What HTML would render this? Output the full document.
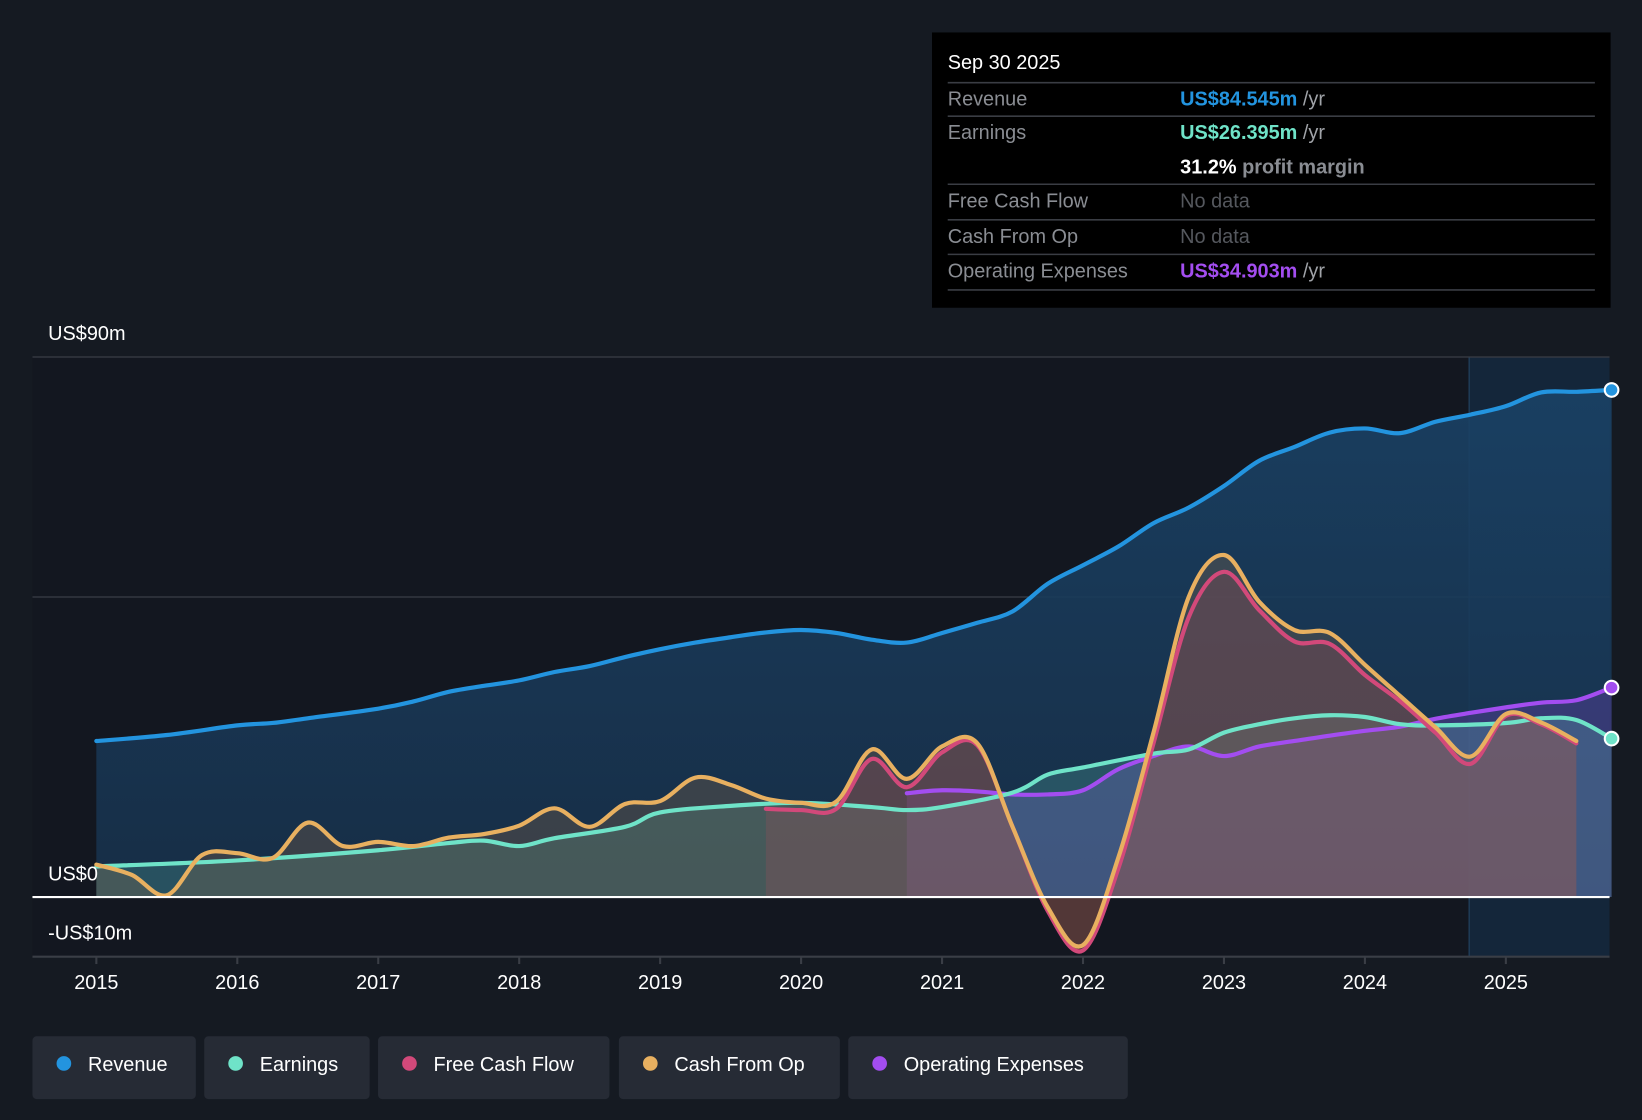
<!DOCTYPE html>
<html><head><meta charset="utf-8"><style>
html,body{margin:0;padding:0;background:#151a22;}
svg{display:block;font-family:"Liberation Sans",sans-serif;}
</style></head><body>
<svg id="chart" width="1642" height="1120" viewBox="0 0 1568 1070" preserveAspectRatio="none" xmlns="http://www.w3.org/2000/svg">
<defs>
<linearGradient id="revGrad" x1="0" y1="0" x2="0" y2="1"><stop offset="0" stop-color="#1a4266" stop-opacity="0.9"/><stop offset="1" stop-color="#17304a" stop-opacity="0.9"/></linearGradient>
</defs>
<rect x="0" y="0" width="1568" height="1070" fill="#151a22"/>
<rect x="31" y="341" width="1372" height="573" fill="#131720"/>
<rect x="1403" y="341" width="134" height="573" fill="#14263a"/>
<line x1="1403" y1="341" x2="1403" y2="914" stroke="#1e3a55" stroke-width="1.5"/>
<g id="grid"></g>
<g id="series"></g>
<g id="axes"></g>
<g id="tooltip">
<rect x="890" y="31" width="648" height="263" fill="#000"/>
<text x="905" y="66" fill="#fff" font-size="19">Sep 30 2025</text>
<g stroke="#3a3d44" stroke-width="1.5">
<line x1="905" y1="79" x2="1523" y2="79"/><line x1="905" y1="111" x2="1523" y2="111"/>
<line x1="905" y1="176" x2="1523" y2="176"/><line x1="905" y1="210" x2="1523" y2="210"/>
<line x1="905" y1="243" x2="1523" y2="243"/><line x1="905" y1="277" x2="1523" y2="277"/>
</g>
<g font-size="19" fill="#8a8d93">
<text x="905" y="101">Revenue</text><text x="905" y="133">Earnings</text>
<text x="905" y="198">Free Cash Flow</text><text x="905" y="232">Cash From Op</text>
<text x="905" y="265">Operating Expenses</text>
</g>
<text x="1127" y="101" font-size="19"><tspan fill="#2394df" font-weight="bold">US$84.545m</tspan><tspan fill="#a0a3a8"> /yr</tspan></text>
<text x="1127" y="133" font-size="19"><tspan fill="#6fe3c8" font-weight="bold">US$26.395m</tspan><tspan fill="#a0a3a8"> /yr</tspan></text>
<text x="1127" y="166" font-size="19"><tspan fill="#fff" font-weight="bold">31.2%</tspan><tspan fill="#8a8d93" font-weight="bold"> profit margin</tspan></text>
<text x="1127" y="198" font-size="19" fill="#55585e">No data</text>
<text x="1127" y="232" font-size="19" fill="#55585e">No data</text>
<text x="1127" y="265" font-size="19"><tspan fill="#a34df0" font-weight="bold">US$34.903m</tspan><tspan fill="#a0a3a8"> /yr</tspan></text>
</g>
<g id="legend"></g>
</svg>
<script>
const revX=[2015,2015.5,2016,2016.25,2016.5,2017,2017.25,2017.5,2017.75,2018,2018.25,2018.5,2018.75,2019,2019.25,2019.5,2019.75,2020,2020.25,2020.5,2020.75,2021,2021.25,2021.5,2021.75,2022,2022.25,2022.5,2022.75,2023,2023.25,2023.5,2023.75,2024,2024.25,2024.5,2024.75,2025,2025.25,2025.5,2025.75];
const revenue=[26,27,28.6,29,29.8,31.4,32.6,34.2,35.2,36.1,37.5,38.5,40,41.3,42.4,43.3,44.1,44.5,44,42.9,42.4,44,45.7,47.6,52.2,55.3,58.4,62.3,64.9,68.5,72.7,75,77.4,78.1,77.3,79.2,80.4,81.8,84.1,84.2,84.5];
const earnX=[2015,2016,2017,2017.5,2017.75,2018,2018.25,2018.75,2019,2019.5,2020,2020.5,2020.75,2021,2021.5,2021.75,2022,2022.5,2022.75,2023,2023.25,2023.5,2023.75,2024,2024.25,2024.5,2025,2025.25,2025.5,2025.75];
const earnings=[5.1,6.1,7.8,9,9.4,8.5,9.8,11.7,14.1,15.2,15.7,15,14.5,15,17.4,20.4,21.6,23.9,24.6,27.4,28.8,29.8,30.3,30,28.8,28.6,29,29.8,29.5,26.4];
const cfoX=[2015,2015.25,2015.5,2015.75,2016,2016.25,2016.5,2016.75,2017,2017.25,2017.5,2017.75,2018,2018.25,2018.5,2018.75,2019,2019.25,2019.5,2019.75,2020,2020.25,2020.5,2020.75,2021,2021.25,2021.5,2021.75,2022,2022.25,2022.5,2022.75,2023,2023.25,2023.5,2023.75,2024,2024.25,2024.5,2024.75,2025,2025.25,2025.5];
const cashFromOp=[5.4,3.7,0.3,7,7.3,6.5,12.4,8.5,9.2,8.5,9.9,10.5,11.9,14.8,11.7,15.5,16,19.9,18.7,16.4,15.7,15.9,24.6,19.7,25.1,25.6,11.7,-1.7,-8,6.5,27.4,50,57,49.2,44.5,44,38.7,33.5,28.3,23.4,30.5,29.1,26];
const fcfX=[2019.75,2020,2020.25,2020.5,2020.75,2021,2021.25,2021.5,2021.75,2022,2022.25,2022.5,2022.75,2023,2023.25,2023.5,2023.75,2024,2024.25,2024.5,2024.75,2025,2025.25,2025.5];
const freeCashFlow=[14.7,14.5,14.7,23,18.3,24.1,25.3,11.7,-2.3,-8.9,4.7,25.6,46.6,54.2,47.8,42.6,42.2,37,32.6,27.4,22.2,30.2,28.8,25.6];
const opxX=[2020.75,2021,2021.25,2021.5,2021.75,2022,2022.25,2022.5,2022.75,2023,2023.25,2023.5,2023.75,2024,2024.25,2024.5,2024.75,2025,2025.25,2025.5,2025.75];
const opex=[17.3,17.8,17.6,17.1,17.1,17.8,21.3,23.5,25.1,23.5,25.1,26,26.9,27.7,28.4,29.7,30.7,31.6,32.4,32.8,34.9];
const yearTicks=[2015,2016,2017,2018,2019,2020,2021,2022,2023,2024,2025];
const yLabels=[90,0,-10];
const legendNames=["Revenue","Earnings","Free Cash Flow","Cash From Op","Operating Expenses"];

const NS="http://www.w3.org/2000/svg";
function sx(t){return 92+(t-2015)*134.6;}
function sy(v){return 857-v*5.733;}
function el(tag,attrs,parent){const e=document.createElementNS(NS,tag);for(const k in attrs)e.setAttribute(k,attrs[k]);parent.appendChild(e);return e;}
function curve(xs,vs){const p=xs.map((x,i)=>[sx(x),sy(vs[i])]);let d="M"+p[0][0]+","+p[0][1];
for(let i=0;i<p.length-1;i++){const p0=p[i-1]||p[i],p1=p[i],p2=p[i+1],p3=p[i+2]||p2;
const c1=[p1[0]+(p2[0]-p0[0])/6,p1[1]+(p2[1]-p0[1])/6],c2=[p2[0]-(p3[0]-p1[0])/6,p2[1]-(p3[1]-p1[1])/6];
d+=" C"+c1[0].toFixed(1)+","+c1[1].toFixed(1)+" "+c2[0].toFixed(1)+","+c2[1].toFixed(1)+" "+p2[0].toFixed(1)+","+p2[1].toFixed(1);}return d;}
function area(xs,vs){return curve(xs,vs)+" L"+sx(xs[xs.length-1])+","+sy(0)+" L"+sx(xs[0])+","+sy(0)+" Z";}

const grid=document.getElementById('grid');
[90,50].forEach(v=>{const l=el('line',{x1:31,x2:1537,y1:sy(v),y2:sy(v),stroke:'#3a3e46','stroke-width':1.2},grid);

});

const S=document.getElementById('series');
const sets=[
 {n:'revenue',xs:revX,vs:revenue,c:'#2394df',f:'url(#revGrad)',fo:1},
 {n:'opex',xs:opxX,vs:opex,c:'#a34df0',f:'#a34df0',fo:0.22},
 {n:'earnings',xs:earnX,vs:earnings,c:'#6fe3c8',f:'#6fe3c8',fo:0.2},
 {n:'free-cash-flow',xs:fcfX,vs:freeCashFlow,c:'#d2497a',f:'#b04060',fo:0.25},
 {n:'cash-from-op',xs:cfoX,vs:cashFromOp,c:'#e8b060',f:'#8a6a4a',fo:0.3}
];
sets.forEach(s=>{const a=el('path',{d:area(s.xs,s.vs),fill:s.f,'fill-opacity':s.fo},S);

});
sets.forEach(s=>{const l=el('path',{d:curve(s.xs,s.vs),fill:'none',stroke:s.c,'stroke-width':4,'stroke-linejoin':'round','stroke-linecap':'round'},S);

});
[['revenue',revX,revenue,'#2394df'],['opex',opxX,opex,'#a34df0'],['earnings',earnX,earnings,'#6fe3c8']].forEach(s=>{
 const c=el('circle',{cx:sx(s[1][s[1].length-1]),cy:sy(s[2][s[2].length-1]),r:6.5,fill:s[3],stroke:'#fff','stroke-width':2},S);
 
 });

const A=document.getElementById('axes');
el('line',{x1:31,x2:1537,y1:sy(0),y2:sy(0),stroke:'#fff','stroke-width':2},A);
el('line',{x1:31,x2:1537,y1:914,y2:914,stroke:'#3a3e46','stroke-width':2},A);
yLabels.forEach(v=>{const t=el('text',{x:46,y:(v<0?sy(v)-17:sy(v)-16),fill:'#fff','font-size':19},A);
t.textContent=(v<0?'-US$':'US$')+Math.abs(v)+(v===0?'':'m');

});
yearTicks.forEach(y=>{el('line',{x1:sx(y),x2:sx(y),y1:914,y2:921,stroke:'#3a3e46','stroke-width':2},A);
const t=el('text',{x:sx(y),y:945,fill:'#fff','font-size':19,'text-anchor':'middle'},A);t.textContent=y;

});

const L=document.getElementById('legend');
const lc=['#2394df','#6fe3c8','#d2497a','#e8b060','#a34df0'];
const lx=[31,195,361,591,810],lw=[156,158,221,211,267];
legendNames.forEach((n,i)=>{const g=el('g',{},L);


el('rect',{x:lx[i],y:990,width:lw[i],height:60,rx:4,fill:'#262b35'},g);
el('circle',{cx:lx[i]+30,cy:1016,r:7,fill:lc[i]},g);
const t=el('text',{x:lx[i]+53,y:1023,fill:'#fff','font-size':19},g);t.textContent=n;});
</script>
</body></html>
